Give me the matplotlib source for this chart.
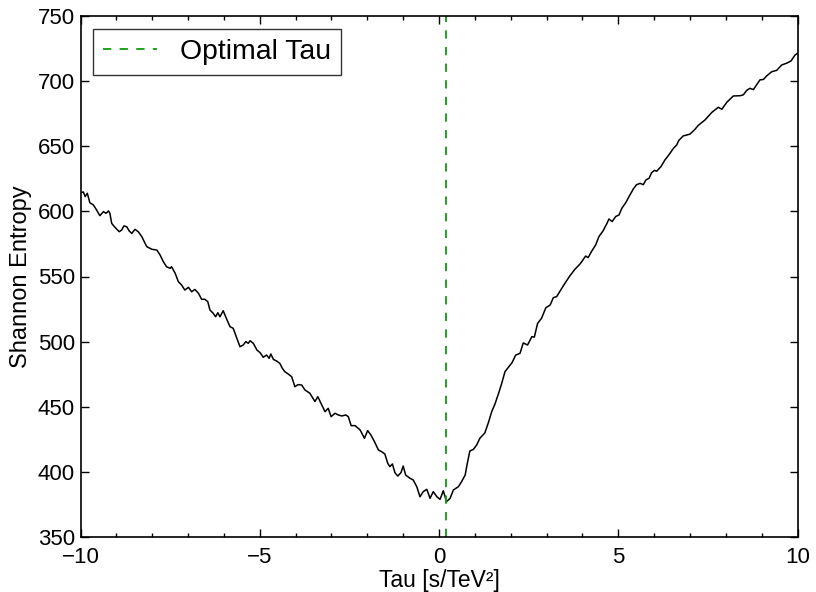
import numpy as np
import matplotlib.pyplot as plt
from matplotlib.ticker import MultipleLocator

plt.rcParams['font.family'] = ['Liberation Sans', 'DejaVu Sans']

# entropy scan over tau
tau = [-10.00, -9.92, -9.87, -9.81, -9.74, -9.64, -9.55, -9.46, -9.36, -9.29,
       -9.22, -9.18, -9.13, -9.04, -8.92, -8.85, -8.79, -8.71, -8.64, -8.57,
       -8.48, -8.39, -8.29, -8.20, -8.15, -8.01, -7.87, -7.78, -7.69, -7.60,
       -7.50, -7.46, -7.36, -7.27, -7.18, -7.09, -6.99, -6.90, -6.81, -6.71,
       -6.62, -6.53, -6.45, -6.39, -6.30, -6.23, -6.17, -6.11, -6.02, -5.92,
       -5.83, -5.74, -5.64, -5.55, -5.46, -5.39, -5.32, -5.27, -5.18, -5.08,
       -4.99, -4.90, -4.81, -4.74, -4.69, -4.62, -4.53, -4.44, -4.37, -4.30,
       -4.20, -4.11, -4.02, -3.93, -3.83, -3.74, -3.60, -3.46, -3.38, -3.27,
       -3.18, -3.09, -3.01, -2.90, -2.81, -2.71, -2.60, -2.53, -2.45, -2.34,
       -2.20, -2.08, -1.99, -1.90, -1.80, -1.69, -1.60, -1.51, -1.43, -1.37,
       -1.30, -1.23, -1.15, -1.06, -1.00, -0.93, -0.81, -0.72, -0.62, -0.53,
       -0.44, -0.34, -0.25, -0.16, -0.06, 0.03, 0.12, 0.21, 0.31, 0.40,
       0.54, 0.63, 0.73, 0.79, 0.86, 0.96, 1.05, 1.14, 1.28, 1.38,
       1.47, 1.56, 1.67, 1.75, 1.84, 1.95, 2.04, 2.14, 2.26, 2.35,
       2.47, 2.59, 2.66, 2.75, 2.86, 2.98, 3.10, 3.19, 3.28, 3.38,
       3.51, 3.65, 3.79, 3.93, 4.00, 4.09, 4.16, 4.26, 4.37, 4.46,
       4.58, 4.68, 4.74, 4.83, 4.93, 5.02, 5.10, 5.21, 5.30, 5.42,
       5.51, 5.61, 5.70, 5.77, 5.86, 5.93, 6.01, 6.07, 6.19, 6.30,
       6.41, 6.54, 6.63, 6.69, 6.81, 7.00, 7.14, 7.23, 7.42, 7.61,
       7.79, 7.89, 8.03, 8.21, 8.40, 8.49, 8.58, 8.67, 8.77, 8.95,
       9.05, 9.14, 9.28, 9.42, 9.56, 9.70, 9.82, 9.93, 10.00]

entropy = [614.3, 614.9, 611.3, 613.9, 606.7, 604.9, 601.0, 596.7, 599.8, 598.5,
           600.3, 598.5, 590.8, 587.8, 584.4, 585.7, 588.8, 588.2, 584.9, 583.1,
           586.2, 584.4, 580.6, 575.5, 572.9, 570.9, 570.3, 566.5, 561.4, 557.5,
           556.3, 557.5, 552.5, 546.0, 543.5, 539.6, 541.7, 538.3, 540.1, 537.1,
           532.5, 532.5, 530.7, 524.3, 521.8, 519.1, 522.2, 519.1, 523.7, 517.1,
           511.5, 510.2, 502.6, 496.1, 497.4, 500.0, 498.7, 500.7, 498.7, 493.6,
           491.5, 488.0, 489.7, 487.2, 490.5, 486.4, 485.1, 483.3, 479.5, 476.9,
           475.0, 473.1, 465.4, 467.0, 466.7, 462.9, 460.3, 454.0, 457.7, 451.3,
           446.2, 448.8, 442.4, 445.0, 443.7, 442.9, 443.7, 442.4, 435.5, 435.5,
           432.2, 425.8, 431.7, 428.3, 423.2, 416.8, 415.5, 413.7, 406.6, 404.0,
           406.1, 399.4, 396.8, 399.4, 404.5, 397.6, 395.1, 393.8, 388.6, 380.9,
           384.8, 386.6, 379.7, 384.8, 380.9, 378.9, 385.5, 377.1, 379.7, 386.1,
           388.6, 392.5, 397.6, 406.6, 416.0, 417.3, 420.6, 425.8, 430.0, 438.0,
           446.2, 452.0, 461.0, 468.0, 476.9, 480.8, 484.0, 489.7, 491.0, 499.0,
           497.4, 503.8, 503.5, 514.0, 517.9, 526.0, 528.1, 533.8, 534.5, 539.0,
           544.7, 550.5, 555.5, 559.5, 562.1, 565.7, 564.5, 569.5, 574.2, 580.6,
           585.2, 590.5, 594.1, 592.2, 596.1, 597.2, 602.4, 606.7, 611.3, 617.2,
           620.5, 621.5, 620.5, 624.1, 625.4, 629.7, 631.5, 630.8, 634.3, 639.4,
           643.3, 648.4, 651.0, 654.5, 657.9, 659.3, 663.0, 666.0, 670.2, 676.0,
           679.9, 678.4, 683.8, 688.6, 688.8, 689.5, 692.8, 694.5, 693.5, 700.9,
           701.3, 704.0, 707.2, 708.3, 712.4, 713.8, 715.5, 720.0, 721.4]

tau_opt = 0.2

fig = plt.figure(figsize=(8.16, 5.92), dpi=100)
ax = fig.add_axes([80.5 / 816, 1 - 537 / 592, 717 / 816, 521 / 592])

ax.plot(tau, entropy, color='black', lw=1.1)
ax.axvline(tau_opt, color='#119911', lw=1.3, ls='--', dashes=(4.6, 4.6), label='Optimal Tau')

ax.set_xlim(-10, 10)
ax.set_ylim(350, 750)
ax.xaxis.set_major_locator(MultipleLocator(5))
ax.xaxis.set_minor_locator(MultipleLocator(1))
ax.yaxis.set_major_locator(MultipleLocator(50))

ax.tick_params(which='both', direction='in', top=True, right=True, labelsize=16)
ax.tick_params(axis='x', pad=7)
ax.tick_params(axis='y', pad=4)
ax.tick_params(which='major', length=5.5, width=1)
ax.tick_params(which='minor', length=3, width=1)
for s in ax.spines.values():
    s.set_linewidth(1.2)

ax.set_xlabel('Tau [s/TeV²]', fontsize=16.5, labelpad=1)
ax.set_ylabel('Shannon Entropy', fontsize=17, labelpad=4)

leg = ax.legend(loc='upper left', fontsize=20.4, fancybox=False, handlelength=1.9,
                handletextpad=0.8, borderaxespad=0.45, borderpad=0.35)
leg.get_frame().set_edgecolor('black')
leg.get_frame().set_linewidth(1.0)

fig.savefig('out.png', dpi=100)
